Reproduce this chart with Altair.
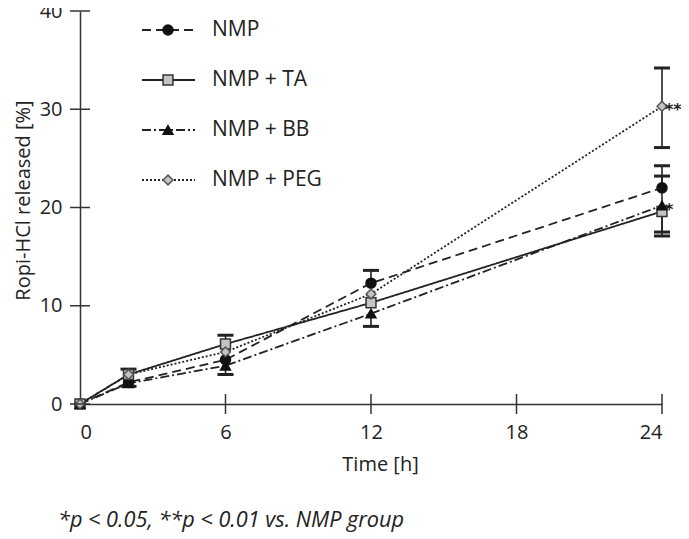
import altair as alt
import pandas as pd

# ---------------- data ----------------
series = ["NMP", "NMP + TA", "NMP + BB", "NMP + PEG"]
times = [0, 2, 6, 12, 24]

nmp = [0, 2.2, 4.5, 12.3, 22.0]
ta = [0, 3.0, 6.1, 10.3, 19.6]
bb = [0, 2.1, 3.9, 9.2, 20.2]
peg = [0, 3.0, 5.3, 11.2, 30.3]

nmp_up = [0, 0, 0, 1.3, 2.25]
nmp_dn = [0, 0.4, 0, 0, 0]
ta_up = [0, 0.55, 0.9, 0, 0]
ta_dn = [0, 0, 0, 0, 2.1]
bb_up = [0, 0, 0, 0, 3.0]
bb_dn = [0, 0, 0.9, 1.3, 3.1]
peg_up = [0, 0, 0, 0, 3.9]
peg_dn = [0, 0, 0, 0, 4.2]

x_ticks = [0, 6, 12, 18, 24]
y_ticks = [0, 10, 20, 30, 40]

sig_labels = ["**", "*"]
sig_series = ["NMP + PEG", "NMP + BB"]

footnote = "*p < 0.05, **p < 0.01 vs. NMP group"

# ---------------- tables ----------------
vals = [nmp, ta, bb, peg]
ups = [nmp_up, ta_up, bb_up, peg_up]
dns = [nmp_dn, ta_dn, bb_dn, peg_dn]

rows, err_rows, cap_rows = [], [], []
for s, v, u, d in zip(series, vals, ups, dns):
    for t, val, eu, ed in zip(times, v, u, d):
        rows.append({"series": s, "time": t, "value": val})
        if eu > 0 or ed > 0:
            err_rows.append({"series": s, "time": t, "lo": val - ed, "hi": val + eu})
        if eu > 0:
            cap_rows.append({"series": s, "time": t, "cap": val + eu})
        if ed > 0:
            cap_rows.append({"series": s, "time": t, "cap": val - ed})

df = pd.DataFrame(rows)
err_df = pd.DataFrame(err_rows)
cap_df = pd.DataFrame(cap_rows)

last = {s: v[-1] for s, v in zip(series, vals)}
sig_df = pd.DataFrame({"label": sig_labels,
                       "time": [times[-1]] * len(sig_labels),
                       "value": [last[s] for s in sig_series]})

leg_df = pd.DataFrame({"series": series, "idx": list(range(len(series)))})

W, H = 582, 393
TOP = 3
INK = "#222222"
FONT = "Open Sans"

xs = alt.Scale(domain=[0, 24], nice=False, zero=False)
ys = alt.Scale(domain=[0, 40], nice=False)

dash_scale = alt.Scale(domain=series, range=[[9, 5], [1, 0], [9, 3, 2, 3], [2, 2]])
shape_scale = alt.Scale(domain=series, range=["circle", "square", "triangle-up", "diamond"])
fill_scale = alt.Scale(domain=series, range=["#111111", "#c4c4c4", "#111111", "#c4c4c4"])
stroke_scale = alt.Scale(domain=series, range=["#111111", "#333333", "#111111", "#555555"])
size_scale = alt.Scale(domain=series, range=[100, 95, 95, 120])

X = alt.X("time:Q", scale=xs,
          axis=alt.Axis(values=x_ticks, ticks=False, grid=False, labelPadding=18,
                        labelFontSize=20, labelFont=FONT, labelColor=INK,
                        domainColor="#333333", domainWidth=1.5,
                        title="Time [h]", titleFontSize=20, titleFont=FONT,
                        titleFontWeight="normal", titleColor=INK,
                        titleX=300, titleY=50, titleBaseline="top"))
Y = alt.Y("value:Q", scale=ys,
          axis=alt.Axis(values=y_ticks, ticks=False, grid=False, labelPadding=18,
                        labelFontSize=20, labelFont=FONT, labelColor=INK,
                        domainColor="#333333", domainWidth=1.5,
                        title="Ropi-HCl released [%]", titleFontSize=20, titleFont=FONT,
                        titleFontWeight="normal", titleColor=INK,
                        titleX=-51, titleY=200 - 8 - TOP, titleBaseline="alphabetic"))

lines = alt.Chart(df).mark_line(color=INK, strokeWidth=1.8, interpolate="linear").encode(
    x=X, y=Y,
    strokeDash=alt.StrokeDash("series:N", scale=dash_scale, legend=None),
    detail="series:N",
)

errs = alt.Chart(err_df).mark_rule(color=INK, strokeWidth=1.6).encode(
    x=alt.X("time:Q", scale=xs), y=alt.Y("lo:Q", scale=ys), y2="hi:Q"
)
caps = alt.Chart(cap_df).mark_tick(color=INK, orient="horizontal", size=16, thickness=3, opacity=1).encode(
    x=alt.X("time:Q", scale=xs), y=alt.Y("cap:Q", scale=ys)
)

points = alt.Chart(df).mark_point(filled=True, opacity=1, strokeWidth=1.5).encode(
    x=alt.X("time:Q", scale=xs), y=alt.Y("value:Q", scale=ys),
    shape=alt.Shape("series:N", scale=shape_scale, legend=None),
    fill=alt.Fill("series:N", scale=fill_scale, legend=None),
    stroke=alt.Stroke("series:N", scale=stroke_scale, legend=None),
    size=alt.Size("series:N", scale=size_scale, legend=None),
)

sig = alt.Chart(sig_df).mark_text(align="left", baseline="middle", dx=3, dy=4,
                                  fontSize=16, fontWeight="bold", font="DejaVu Sans", color=INK).encode(
    x=alt.X("time:Q", scale=xs), y=alt.Y("value:Q", scale=ys), text="label:N"
)

ytick_df = pd.DataFrame({"v": y_ticks})
xtick_df = pd.DataFrame({"v": x_ticks[1:]})
yticks = alt.Chart(ytick_df).mark_tick(color="#333333", orient="horizontal", size=20, thickness=1.5, opacity=1).encode(
    y=alt.Y("v:Q", scale=ys), x=alt.value(0)
)
xticks = alt.Chart(xtick_df).mark_tick(color="#333333", orient="vertical", size=20, thickness=1.5, opacity=1).encode(
    x=alt.X("v:Q", scale=xs), y=alt.value(H)
)

# legend (manual)
leg_base = alt.Chart(leg_df).transform_calculate(ly=f"{22 - TOP} + datum.idx * 50")
leg_lines = leg_base.mark_rule(color=INK, strokeWidth=1.8).encode(
    x=alt.value(62), x2=alt.value(115), y=alt.Y("ly:Q", scale=None),
    strokeDash=alt.StrokeDash("series:N", scale=dash_scale, legend=None),
)
leg_pts = leg_base.mark_point(filled=True, opacity=1, strokeWidth=1.5).encode(
    x=alt.value(88), y=alt.Y("ly:Q", scale=None),
    shape=alt.Shape("series:N", scale=shape_scale, legend=None),
    fill=alt.Fill("series:N", scale=fill_scale, legend=None),
    stroke=alt.Stroke("series:N", scale=stroke_scale, legend=None),
    size=alt.Size("series:N", scale=size_scale, legend=None),
)
leg_txt = leg_base.mark_text(align="left", baseline="middle", fontSize=21, font=FONT, color=INK).encode(
    x=alt.value(132), y=alt.Y("ly:Q", scale=None), text="series:N"
)

foot = alt.Chart(pd.DataFrame({"t": [footnote]})).mark_text(
    align="left", baseline="alphabetic", fontSize=21.7, fontStyle="italic", font=FONT, color=INK
).encode(x=alt.value(-22), y=alt.value(519 - TOP), text="t:N")

chart = alt.layer(
    lines, errs, caps, points, sig, yticks, xticks, leg_lines, leg_pts, leg_txt, foot
).properties(
    width=W, height=H,
    background="white",
    autosize=alt.AutoSizeParams(type="none"),
    padding={"left": 72, "top": TOP, "right": 19, "bottom": 131},
).configure_view(stroke=None)

chart.save("out.html", embed_options={"renderer": "svg", "actions": False})
